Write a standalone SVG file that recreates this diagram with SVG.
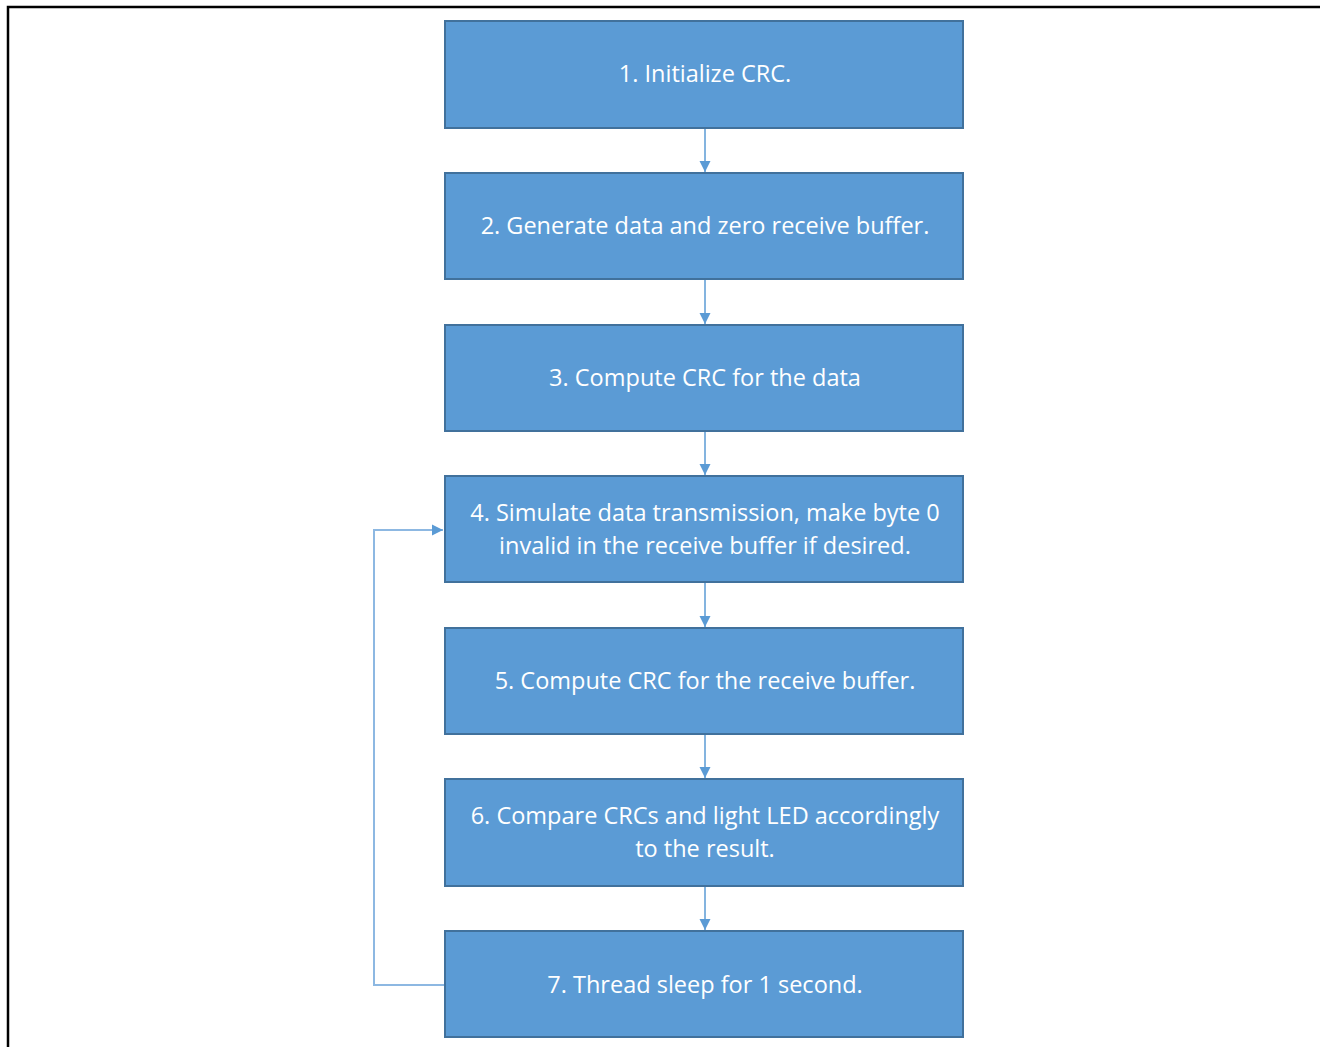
<svg xmlns="http://www.w3.org/2000/svg" width="1320" height="1047" viewBox="0 0 1320 1047">
<defs>
<style>
.box{fill:#5B9BD5;stroke:#41719C;stroke-width:2}
.lbl{fill:#FFFFFF;font-family:"Open Sans","Liberation Sans",sans-serif;font-size:23.5px;text-anchor:middle}
.conn{stroke:#5B9BD5;stroke-width:1.5;fill:none}
.loop{stroke:#8DB8E2;stroke-width:2;fill:none}
</style>
<marker id="ah" viewBox="0 0 10 10" refX="10" refY="5" markerWidth="11" markerHeight="12" markerUnits="userSpaceOnUse" orient="auto">
<path d="M0,0 L10,5 L0,10 Z" fill="#5B9BD5"/>
</marker>
</defs>
<rect x="0" y="0" width="1320" height="1047" fill="#FFFFFF"/>
<path d="M8,1047 L8,7 L1320,7" stroke="#000000" stroke-width="2.5" fill="none"/>
<g id="connectors">
<line class="conn" x1="705" y1="128" x2="705" y2="172" marker-end="url(#ah)"/>
<line class="conn" x1="705" y1="279" x2="705" y2="324" marker-end="url(#ah)"/>
<line class="conn" x1="705" y1="431" x2="705" y2="475" marker-end="url(#ah)"/>
<line class="conn" x1="705" y1="582" x2="705" y2="627" marker-end="url(#ah)"/>
<line class="conn" x1="705" y1="734" x2="705" y2="778" marker-end="url(#ah)"/>
<line class="conn" x1="705" y1="886" x2="705" y2="930" marker-end="url(#ah)"/>
<path class="loop" d="M444,985 L374,985 L374,530 L443,530" marker-end="url(#ah)"/>
</g>
<g id="node1"><rect class="box" x="445" y="21" width="518" height="107"/><text class="lbl" x="705" y="82">1. Initialize CRC.</text></g>
<g id="node2"><rect class="box" x="445" y="173" width="518" height="106"/><text class="lbl" x="705" y="234">2. Generate data and zero receive buffer.</text></g>
<g id="node3"><rect class="box" x="445" y="325" width="518" height="106"/><text class="lbl" x="705" y="386">3. Compute CRC for the data</text></g>
<g id="node4"><rect class="box" x="445" y="476" width="518" height="106"/><text class="lbl" x="705" y="521">4. Simulate data transmission, make byte 0</text><text class="lbl" x="705" y="554">invalid in the receive buffer if desired.</text></g>
<g id="node5"><rect class="box" x="445" y="628" width="518" height="106"/><text class="lbl" x="705" y="689">5. Compute CRC for the receive buffer.</text></g>
<g id="node6"><rect class="box" x="445" y="779" width="518" height="107"/><text class="lbl" x="705" y="824">6. Compare CRCs and light LED accordingly</text><text class="lbl" x="705" y="857">to the result.</text></g>
<g id="node7"><rect class="box" x="445" y="931" width="518" height="106"/><text class="lbl" x="705" y="993">7. Thread sleep for 1 second.</text></g>
</svg>
